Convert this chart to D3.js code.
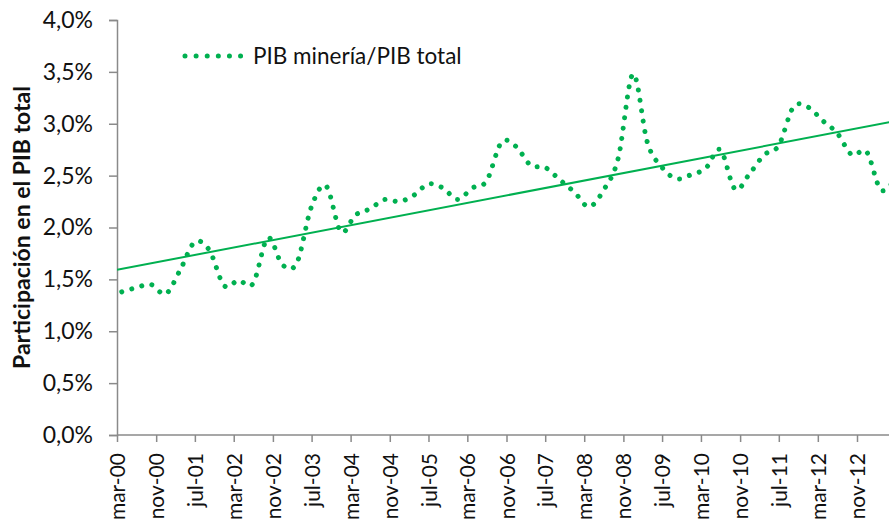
<!DOCTYPE html>
<html>
<head>
<meta charset="utf-8">
<title>PIB minería / PIB total</title>
<script src="https://cdn.jsdelivr.net/npm/d3@7/dist/d3.min.js"></script>
<style>
  body { margin: 0; background: #fff; }
  svg { display: block; font-family: Lato, "Open Sans", sans-serif; }
</style>
</head>
<body>
<div id="chart"></div>
<script>
// trimestres (fin de mes)
const quarters = [
  "mar-00","jun-00","sep-00","dic-00","mar-01","jun-01","sep-01","dic-01",
  "mar-02","jun-02","sep-02","dic-02","mar-03","jun-03","sep-03","dic-03",
  "mar-04","jun-04","sep-04","dic-04","mar-05","jun-05","sep-05","dic-05",
  "mar-06","jun-06","sep-06","dic-06","mar-07","jun-07","sep-07","dic-07",
  "mar-08","jun-08","sep-08","dic-08","mar-09","jun-09","sep-09","dic-09",
  "mar-10","jun-10","sep-10","dic-10","mar-11","jun-11","sep-11","dic-11",
  "mar-12","jun-12","sep-12","dic-12","mar-13","jun-13"
];
// PIB minería / PIB total (%)
const pibShare = [
  1.38,1.42,1.45,1.36,1.59,1.86,1.78,1.44,1.49,1.46,
  1.90,1.64,1.66,2.20,2.40,1.96,2.12,2.18,2.27,2.25,
  2.31,2.42,2.38,2.27,2.38,2.45,2.82,2.78,2.60,2.58,
  2.46,2.34,2.20,2.36,2.67,3.48,2.82,2.58,2.47,2.51,
  2.57,2.75,2.37,2.52,2.70,2.79,3.16,3.16,3.03,2.91,
  2.70,2.73,2.36,2.48
];
const xTickLabels = ["mar-00","nov-00","jul-01","mar-02","nov-02","jul-03","mar-04","nov-04",
  "jul-05","mar-06","nov-06","jul-07","mar-08","nov-08","jul-09","mar-10","nov-10","jul-11",
  "mar-12","nov-12"];
const yTicks = [0, 0.5, 1, 1.5, 2, 2.5, 3, 3.5, 4];
const seriesName = "PIB minería/PIB total";
const yTitle = "Participación en el PIB total";

const W = 889, H = 527;
const plotLeft = 117, plotTop = 20, plotBottom = 435;
const green = "#00B050", axisGray = "#8a8a8a";

const esLocale = d3.timeFormatLocale({
  dateTime: "%x %X", date: "%d/%m/%Y", time: "%H:%M:%S", periods: ["AM","PM"],
  days: ["domingo","lunes","martes","miércoles","jueves","viernes","sábado"],
  shortDays: ["dom","lun","mar","mié","jue","vie","sáb"],
  months: ["enero","febrero","marzo","abril","mayo","junio","julio","agosto","septiembre","octubre","noviembre","diciembre"],
  shortMonths: ["ene","feb","mar","abr","may","jun","jul","ago","sep","oct","nov","dic"]
});
const parseMonth = esLocale.parse("%b-%y");
const fmtMonth = esLocale.format("%b-%y");
const numLocale = d3.formatLocale({decimal: ",", thousands: ".", grouping: [3], currency: ["$",""]});
const fmtPct = v => numLocale.format(".1f")(v) + "%";

// cada dato se ubica al final de su mes
const data = quarters.map((q, i) => ({
  date: d3.timeDay.offset(d3.timeMonth.offset(parseMonth(q), 1), -1),
  value: pibShare[i]
}));

const tickDates = xTickLabels.map(parseMonth);
const x = d3.scaleTime()
  .domain([tickDates[0], tickDates[tickDates.length - 1]])
  .range([plotLeft, 857]);
const y = d3.scaleLinear().domain([0, 4]).range([plotBottom, plotTop]);

const svg = d3.select("#chart").append("svg")
  .attr("width", W).attr("height", H);

// eje Y
const yAxis = svg.append("g")
  .attr("transform", "translate(" + plotLeft + ",0)")
  .call(d3.axisLeft(y).tickValues(yTicks).tickFormat(fmtPct).tickSize(8).tickPadding(16));
yAxis.select(".domain").attr("stroke", axisGray).attr("stroke-width", 1.5);
yAxis.selectAll(".tick line").attr("stroke", axisGray).attr("stroke-width", 1.5);
yAxis.selectAll("text").attr("font-size", 23).attr("fill", "#111").attr("font-family", "Lato, sans-serif");

// eje X
const xEnd = x.invert(W + 20);
const xAxis = svg.append("g")
  .attr("transform", "translate(0," + plotBottom + ")")
  .call(d3.axisBottom(x).tickValues(tickDates).tickFormat(fmtMonth).tickSize(7).tickSizeOuter(0));
xAxis.select(".domain").remove();
xAxis.append("line")
  .attr("x1", plotLeft).attr("x2", x(xEnd))
  .attr("stroke", axisGray).attr("stroke-width", 1.5);
xAxis.selectAll(".tick line").attr("stroke", axisGray).attr("stroke-width", 1.5);
xAxis.selectAll("text")
  .attr("font-size", 21).attr("fill", "#111").attr("font-family", "Lato, sans-serif")
  .attr("text-anchor", "end")
  .attr("transform", "rotate(-90)")
  .attr("x", -18).attr("y", 0).attr("dy", "0.36em");

// título eje Y
svg.append("text")
  .attr("transform", "translate(30," + (y(2)) + ") rotate(-90)")
  .attr("text-anchor", "middle")
  .attr("font-size", 23).attr("font-weight", "bold").attr("fill", "#111")
  .text(yTitle);

svg.append("defs").append("clipPath").attr("id", "plot")
  .append("rect").attr("x", plotLeft).attr("y", 0).attr("width", W - plotLeft).attr("height", plotBottom);

// línea de tendencia (mínimos cuadrados sobre la fecha)
const xs = data.map(d => +d.date), ys = data.map(d => d.value);
const mx = d3.mean(xs), my = d3.mean(ys);
const slope = d3.sum(xs, (v, i) => (v - mx) * (ys[i] - my)) / d3.sum(xs, v => (v - mx) * (v - mx));
const trend = t => my + slope * (+t - mx);
const trendPts = [x.domain()[0], xEnd];

const plot = svg.append("g").attr("clip-path", "url(#plot)");
plot.append("line")
  .attr("x1", x(trendPts[0])).attr("y1", y(trend(trendPts[0])))
  .attr("x2", x(trendPts[1])).attr("y2", y(trend(trendPts[1])))
  .attr("stroke", green).attr("stroke-width", 2);

const line = d3.line()
  .x(d => x(d.date)).y(d => y(d.value))
  .curve(d3.curveCatmullRom.alpha(0));

plot.append("path")
  .datum(data)
  .attr("d", line)
  .attr("fill", "none")
  .attr("stroke", green)
  .attr("stroke-width", 5)
  .attr("stroke-linecap", "round")
  .attr("stroke-dasharray", "0.01 10.4");

// leyenda
const lg = svg.append("g").attr("transform", "translate(185,56)");
lg.append("line")
  .attr("x1", 0).attr("x2", 56)
  .attr("stroke", green).attr("stroke-width", 5)
  .attr("stroke-linecap", "round").attr("stroke-dasharray", "0.01 11.1");
lg.append("text")
  .attr("x", 68).attr("dy", "0.35em")
  .attr("font-size", 22.5).attr("fill", "#111")
  .text(seriesName);
</script>
</body>
</html>
